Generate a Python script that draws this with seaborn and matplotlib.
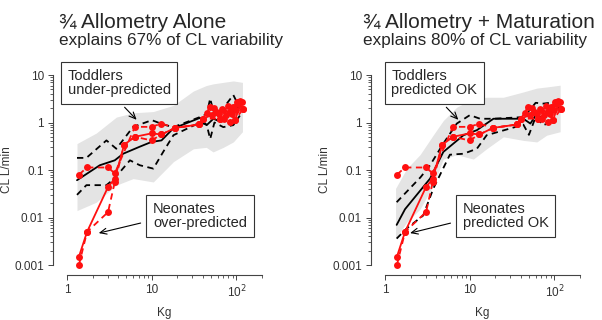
import numpy as np
import pandas as pd
import matplotlib
matplotlib.use('Agg')
import matplotlib.pyplot as plt
import matplotlib.ticker as mticker
import seaborn as sns

## observed clearance (same in both panels)
obs_med_kg = [1.37, 1.71, 3.03, 3.64, 4.7, 6.3, 9.9, 13, 18.8, 36.5, 40.5, 51, 58, 64, 76, 84, 96, 115]
obs_med_cl = [0.0015, 0.005, 0.044, 0.066, 0.34, 0.50, 0.59, 0.56, 0.77, 0.91, 1.21, 1.43, 1.68, 1.2, 1.43, 1.68, 1.12, 2.7]
obs_hi_kg = [1.37, 1.71, 3.03, 3.64, 6.3, 9.9, 13, 18.8, 36.5, 48.6, 58, 70, 84, 92, 101, 121]
obs_hi_cl = [0.080, 0.113, 0.113, 0.085, 0.81, 0.81, 0.95, 0.77, 0.91, 2.1, 1.68, 1.8, 1.68, 2.1, 2.7, 1.97]
obs_lo_kg = [1.37, 1.71, 3.03, 3.64, 4.7, 6.3, 9.9, 13, 18.8, 36.5, 40.5, 64, 84, 96, 121]
obs_lo_cl = [0.001, 0.005, 0.013, 0.056, 0.34, 0.50, 0.42, 0.56, 0.77, 0.91, 1.21, 1.2, 1.03, 1.12, 1.97]
obs_extra_kg = [45, 55, 62, 68, 72, 80, 88, 100, 105, 110]
obs_extra_cl = [1.6, 2.0, 1.5, 1.9, 1.2, 2.2, 1.5, 1.8, 2.4, 2.9]

## allometry alone: prediction band, median and 5th/95th percentiles
a_band_kg = [1.3, 2.2, 3.8, 6.0, 10.4, 18, 31, 44, 53, 70, 92, 118]
a_band_hi = [0.36, 0.6, 1.3, 1.6, 1.7, 2.3, 4.6, 6.0, 6.5, 7.0, 7.5, 7.0]
a_band_lo = [0.014, 0.021, 0.048, 0.066, 0.056, 0.15, 0.28, 0.30, 0.24, 0.30, 0.39, 0.64]
a_med_kg = [1.30, 2.42, 3.64, 4.57, 7.2, 9.9, 13.0, 17.9, 37, 44.5, 53.5, 64, 75, 92, 110]
a_med_cl = [0.061, 0.126, 0.16, 0.22, 0.31, 0.39, 0.42, 0.75, 1.25, 0.88, 1.2, 1.05, 1.45, 1.68, 2.3]
a_hi_kg = [1.30, 1.68, 2.9, 3.8, 6.0, 10, 13.6, 18, 37, 44.5, 49, 55, 70, 92, 110]
a_hi_cl = [0.18, 0.18, 0.42, 0.28, 0.81, 1.12, 0.91, 0.8, 1.3, 1.5, 3.2, 1.4, 2.0, 3.8, 2.0]
a_lo_kg = [1.30, 1.68, 2.9, 3.6, 5.5, 7.2, 10.4, 13.6, 18, 37, 44.5, 49, 55, 70, 92, 110]
a_lo_cl = [0.030, 0.048, 0.048, 0.066, 0.16, 0.126, 0.107, 0.24, 0.54, 1.0, 0.9, 0.45, 1.0, 0.8, 0.88, 1.4]

## allometry + maturation
m_band_kg = [1.32, 1.79, 2.57, 3.7, 4.85, 7.0, 11, 15.8, 24.9, 43, 62, 81, 117]
m_band_hi = [0.041, 0.107, 0.21, 0.55, 1.1, 2.1, 3.2, 3.4, 3.4, 4.4, 5.3, 5.6, 6.1]
m_band_lo = [0.0036, 0.008, 0.015, 0.048, 0.17, 0.21, 0.17, 0.28, 0.5, 0.42, 0.39, 0.54, 0.64]
m_med_kg = [1.36, 1.71, 3.38, 4.85, 8.4, 12.1, 19, 43, 52, 60, 70, 89, 117]
m_med_cl = [0.007, 0.015, 0.066, 0.24, 0.54, 0.69, 1.2, 1.2, 0.95, 1.4, 1.3, 1.68, 2.1]
m_hi_kg = [1.36, 1.79, 2.6, 3.38, 4.85, 7, 10, 13.2, 19, 43, 52, 60, 74, 106]
m_hi_cl = [0.021, 0.035, 0.07, 0.126, 0.36, 0.95, 1.43, 1.2, 1.2, 1.3, 1.9, 2.6, 2.5, 2.7]
m_lo_kg = [1.36, 1.79, 2.8, 3.7, 5.8, 8.4, 12.1, 15.8, 43, 50, 60, 74, 106]
m_lo_cl = [0.0036, 0.0059, 0.011, 0.041, 0.21, 0.22, 0.28, 0.54, 0.9, 0.55, 1.3, 0.88, 1.12]

titles = ['\u00be Allometry Alone', '\u00be Allometry + Maturation']
subtitles = ['explains 67% of CL variability', 'explains 80% of CL variability']
notes_top = ['Toddlers\nunder-predicted', 'Toddlers\npredicted OK']
notes_bot = ['Neonates\nover-predicted', 'Neonates\npredicted OK']

sns.set_style('ticks')
plt.rcParams['font.family'] = ['Liberation Sans', 'DejaVu Sans']

W, H = 602, 320
AXC = '#444444'
DASH = (0, (3.5, 2.5))


def setup_axis(ax):
    ax.set_xscale('log')
    ax.set_yscale('log')
    ax.set_xlim(10 ** -0.17, 10 ** 2.45)
    ax.set_ylim(10 ** -3.21, 10 ** 1.3)
    for s in ['top', 'right']:
        ax.spines[s].set_visible(False)
    ax.spines['left'].set_bounds(0.001, 10)
    ax.spines['bottom'].set_bounds(1, 200)
    for s in ['left', 'bottom']:
        ax.spines[s].set_color(AXC)
        ax.spines[s].set_linewidth(0.8)
    ax.xaxis.set_major_locator(mticker.FixedLocator([1, 10, 100]))
    ax.xaxis.set_major_formatter(mticker.FixedFormatter(['1', '10', '10$^2$']))
    ax.xaxis.set_minor_locator(mticker.FixedLocator(
        [m * 10 ** e for e in range(0, 2) for m in range(2, 10)] + [200]))
    ax.xaxis.set_minor_formatter(mticker.NullFormatter())
    ax.yaxis.set_major_locator(mticker.FixedLocator([0.001, 0.01, 0.1, 1, 10]))
    ax.yaxis.set_major_formatter(mticker.FixedFormatter(['0.001', '0.01', '0.1', '1', '10']))
    ax.yaxis.set_minor_locator(mticker.FixedLocator(
        [m * 10 ** e for e in range(-3, 1) for m in range(2, 10)]))
    ax.yaxis.set_minor_formatter(mticker.NullFormatter())
    ax.tick_params(which='major', length=3.5, width=0.7, color=AXC, labelsize=8.5,
                   labelcolor='#333333', pad=3)
    ax.tick_params(which='minor', length=2, width=0.6, color=AXC)
    ax.set_xlabel('Kg', fontsize=8.5, color='#333333')
    ax.set_ylabel('CL L/min', fontsize=8.5, color='#333333')


def line(ax, kg, cl, color, dashed, marker=None):
    sns.lineplot(x=kg, y=cl, ax=ax, color=color, lw=1.3, sort=False, estimator=None,
                 linestyle=DASH if dashed else '-', marker=marker, markersize=5,
                 markeredgewidth=0, zorder=3 if marker else 2)


fig = plt.figure(figsize=(W / 100, H / 100), dpi=100)

panels = [
    (53, a_band_kg, a_band_lo, a_band_hi, (a_med_kg, a_med_cl), (a_hi_kg, a_hi_cl), (a_lo_kg, a_lo_cl)),
    (371, m_band_kg, m_band_lo, m_band_hi, (m_med_kg, m_med_cl), (m_hi_kg, m_hi_cl), (m_lo_kg, m_lo_cl)),
]
# arrow targets (data coords) and box centres (figure pixels from top)
top_tip = [(6.6, 1.14), (7.3, 1.14)]
bot_tip = [(2.35, 0.0047), (1.96, 0.0047)]
top_box = [(119.2, 83), (434.2, 83)]
bot_box = [(200, 215.8), (505.8, 215.8)]
top_rel = [(0.46, 0.0), (0.53, 0.0)]

for i, (left_px, bkg, blo, bhi, med, hi, lo) in enumerate(panels):
    ax = fig.add_axes([left_px / W, 45 / H, 221.4 / W, 214.25 / H])
    setup_axis(ax)
    ax.fill_between(bkg, blo, bhi, color='#e4e4e4', lw=0, zorder=1)
    line(ax, med[0], med[1], 'black', False)
    line(ax, hi[0], hi[1], 'black', True)
    line(ax, lo[0], lo[1], 'black', True)
    line(ax, obs_hi_kg, obs_hi_cl, '#ff1010', True, 'o')
    line(ax, obs_lo_kg, obs_lo_cl, '#ff1010', True, 'o')
    line(ax, obs_med_kg, obs_med_cl, '#ff1010', False, 'o')
    sns.scatterplot(x=obs_extra_kg, y=obs_extra_cl, ax=ax, color='#ff1010', s=24,
                    linewidth=0, zorder=3)
    ax.yaxis.set_label_coords(-0.18, 0.49)
    ax.xaxis.set_label_coords(0.5, -0.15)

    box = dict(boxstyle='square,pad=0.45', fc='white', ec='#333333', lw=0.8)
    arr = dict(arrowstyle='->,head_length=0.45,head_width=0.2', color='black', lw=0.8,
               shrinkA=3, shrinkB=0)
    bx, by = top_box[i]
    arr_t = dict(arr, relpos=top_rel[i])
    ax.annotate(notes_top[i], xy=top_tip[i], xycoords='data', xytext=(bx, H - by),
                textcoords='figure pixels', ha='center', va='center', multialignment='left',
                fontsize=10.5, linespacing=1.05, bbox=box, arrowprops=arr_t,
                annotation_clip=False, zorder=5)
    bx, by = bot_box[i]
    arr_b = dict(arr, relpos=(0.0, 0.35), shrinkA=4)
    ax.annotate(notes_bot[i], xy=bot_tip[i], xycoords='data', xytext=(bx, H - by),
                textcoords='figure pixels', ha='center', va='center', multialignment='left',
                fontsize=10.5, linespacing=1.05, bbox=box, arrowprops=arr_b,
                annotation_clip=False, zorder=5)

fig.text(59.3 / W, (H - 28.3) / H, titles[0], fontsize=15, va='baseline', ha='left')
fig.text(59.3 / W, (H - 45) / H, subtitles[0], fontsize=12.3, va='baseline', ha='left')
fig.text(363.3 / W, (H - 28.3) / H, titles[1], fontsize=15, va='baseline', ha='left')
fig.text(363.3 / W, (H - 45) / H, subtitles[1], fontsize=12.3, va='baseline', ha='left')

fig.savefig('out.png', dpi=100)
